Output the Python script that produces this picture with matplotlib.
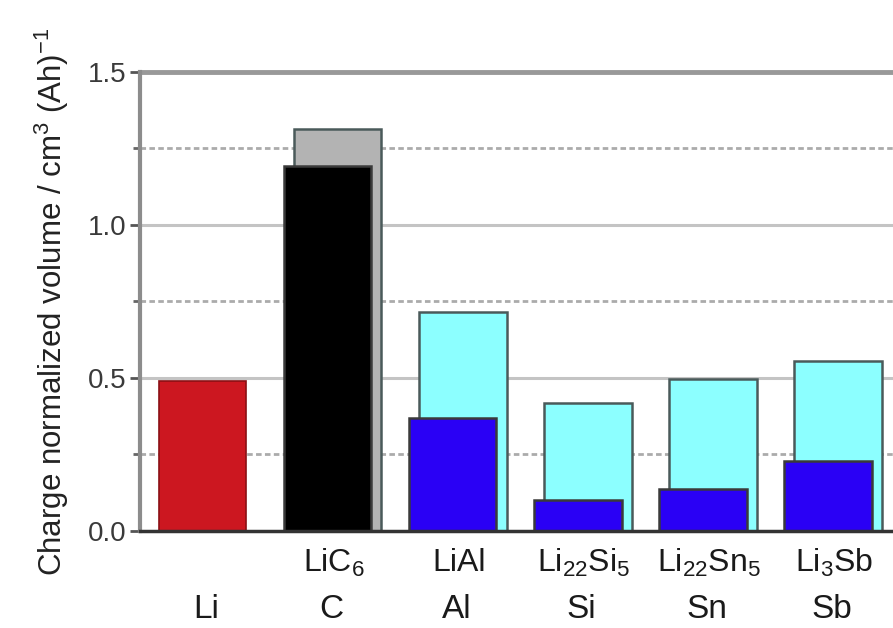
import matplotlib.pyplot as plt
import numpy as np
from matplotlib.ticker import MultipleLocator

plt.rcParams['font.family'] = ['Liberation Sans', 'DejaVu Sans']
plt.rcParams['mathtext.fontset'] = 'custom'
plt.rcParams['mathtext.rm'] = 'Liberation Sans'
plt.rcParams['mathtext.it'] = 'Liberation Sans'

# Datos
elementos = ['Li', 'C', 'Al', 'Si', 'Sn', 'Sb']
compuestos = ['', r'LiC$_6$', 'LiAl', r'Li$_{22}$Si$_5$', r'Li$_{22}$Sn$_5$', r'Li$_3$Sb']
vol_litiado = [0.49, 1.314, 0.716, 0.418, 0.497, 0.556]   # barra trasera
vol_anfitrion = [0.49, 1.193, 0.369, 0.101, 0.137, 0.229]  # barra delantera
color_trasero = ['#CC1720', '#B3B3B3', '#8CFFFF', '#8CFFFF', '#8CFFFF', '#8CFFFF']
color_frontal = ['#CC1720', '#000000', '#2A00F5', '#2A00F5', '#2A00F5', '#2A00F5']

x = np.arange(len(elementos))
ancho = 0.70
desp = 0.08

fig = plt.figure(figsize=(8.93, 6.28), dpi=100)
ax = fig.add_axes([0.1568, 0.1545, 0.8432, 0.7309])

# Lineas de la rejilla
for yv in [0.5, 1.0]:
    ax.axhline(yv, color='#C4C4C4', lw=2.2, zorder=0)
for yv in [0.25, 0.75, 1.25]:
    ax.axhline(yv, color='#ABABAB', lw=2, ls=(0, (2, 1.2)), zorder=0)
ax.axhline(1.5, color='#999999', lw=3.5, zorder=0, clip_on=False)

# Barras traseras (solo donde son distintas)
for i in range(1, len(x)):
    ax.bar(x[i] + desp, vol_litiado[i], ancho, color=color_trasero[i],
           edgecolor='#4A5A5A', lw=1.8, zorder=2)
# Barras delanteras
ax.bar(x[0], vol_anfitrion[0], ancho, color=color_frontal[0],
       edgecolor='#8A1015', lw=1.2, zorder=3)
for i in range(1, len(x)):
    ax.bar(x[i], vol_anfitrion[i], ancho, color=color_frontal[i],
           edgecolor='#3A3A3A', lw=1.8, zorder=3)

ax.set_xlim(-0.5, 5.52)
ax.set_ylim(0, 1.5)
ax.yaxis.set_major_locator(MultipleLocator(0.5))
ax.yaxis.set_minor_locator(MultipleLocator(0.25))
ax.yaxis.set_major_formatter(plt.FuncFormatter(lambda v, p: f'{v:.1f}'))
ax.tick_params(axis='y', which='major', length=7, width=2, color='#555555',
               labelsize=20, labelcolor='#3a3a3a', pad=3)
ax.tick_params(axis='y', which='minor', length=5, width=2, color='#666666')
ax.set_xticks([])

for s in ['top', 'right']:
    ax.spines[s].set_visible(False)
ax.spines['left'].set_color('#8C8C8C')
ax.spines['left'].set_linewidth(3)
ax.spines['bottom'].set_color('#333333')
ax.spines['bottom'].set_linewidth(2.5)
ax.spines['bottom'].set_zorder(5)

ax.set_ylabel(r'Charge normalized volume / cm$^3$ (Ah)$^{-1}$', fontsize=22.5,
              color='#222222', labelpad=12)

for i in range(len(x)):
    ax.text(x[i] + 0.05, -0.105, compuestos[i], ha='center', va='center',
            fontsize=23, color='#1a1a1a', transform=ax.transData, clip_on=False)
    ax.text(x[i] + 0.03, -0.255, elementos[i], ha='center', va='center',
            fontsize=24, color='#1a1a1a', transform=ax.transData, clip_on=False)

fig.savefig('out.png', dpi=100)
